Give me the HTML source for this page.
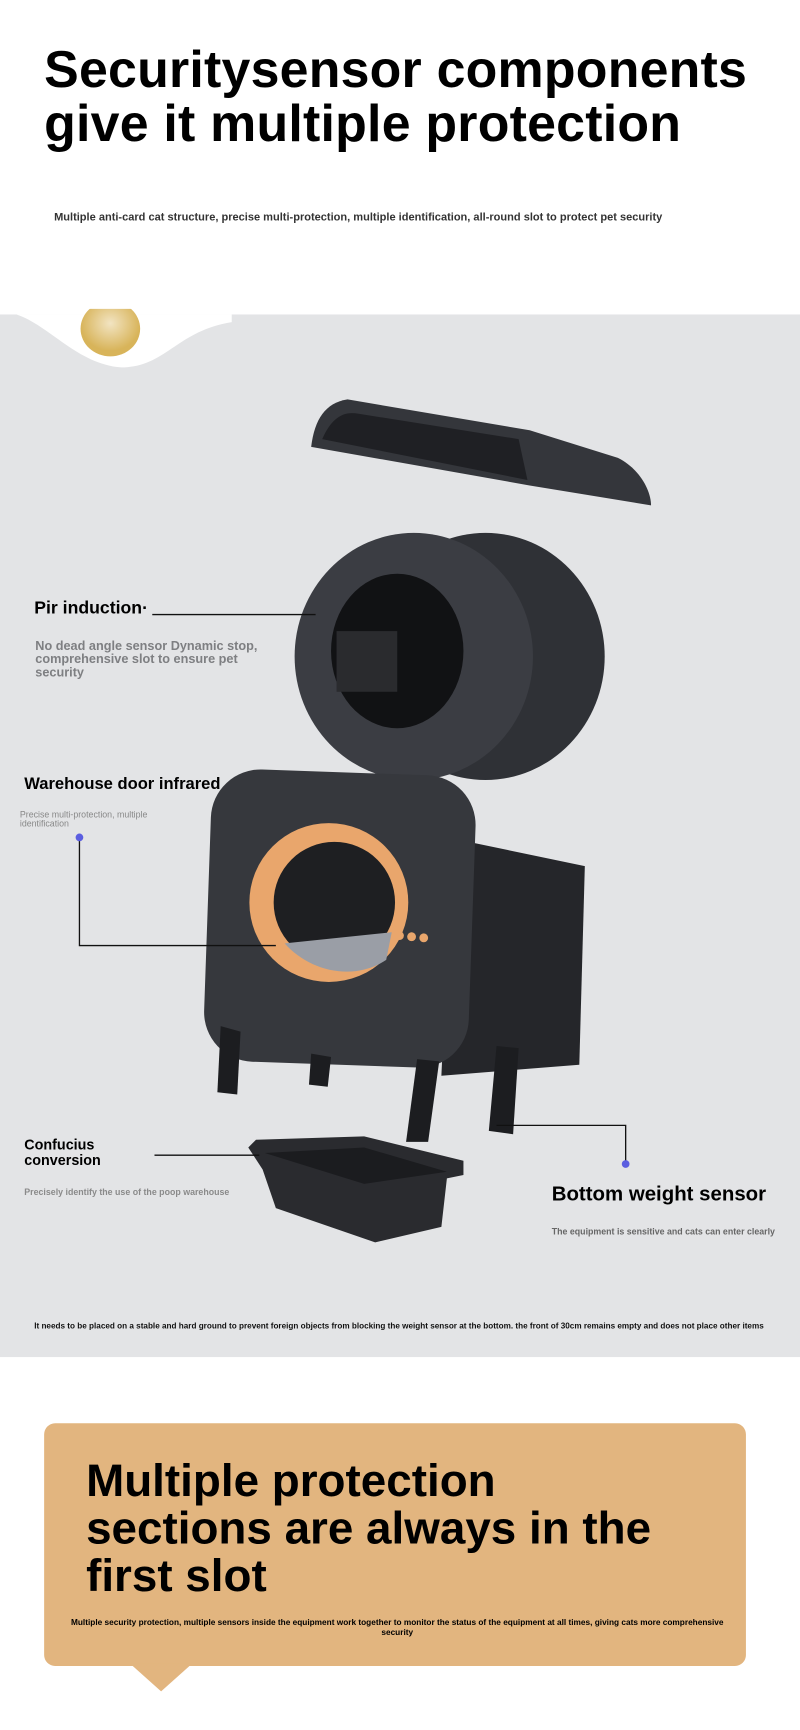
<!DOCTYPE html>
<html><head><meta charset="utf-8"><style>
html,body{margin:0;padding:0;background:#fff;overflow:hidden}
#w{width:725px;height:1568px;position:relative;transform:scale(1.10345,1.10332);transform-origin:0 0;font-family:"Liberation Sans",sans-serif}
.a{position:absolute;margin:0}
</style></head><body><div id="w">
<div class="a" style="left:40px;top:38px;font-size:47px;font-weight:bold;line-height:49px;color:#000;letter-spacing:0.2px">Securitysensor components<br>give it multiple protection</div>
<div class="a" style="left:49px;top:192px;font-size:10px;font-weight:bold;color:#333">Multiple anti-card cat structure, precise multi-protection, multiple identification, all-round slot to protect pet security</div>
<div class="a" style="left:0;top:285px;width:725px;height:945px;background:#e3e4e6"></div>
<svg class="a" style="left:0;top:280px" width="725" height="960" viewBox="0 280 725 960">
<path d="M15 285 C45 295 70 330 110 333 C150 333 160 300 210 292 L210 285Z" fill="#fff"/>
<defs><radialGradient id="g" cx="50%" cy="40%"><stop offset="0" stop-color="#f2e4c2"/><stop offset="1" stop-color="#d8b45a"/></radialGradient></defs>
<ellipse cx="100" cy="298" rx="27" ry="25" fill="url(#g)"/>
<path d="M282 405 C285 380 295 365 315 362 L480 390 L560 415 C580 425 590 445 590 458 L480 440 L282 405Z" fill="#34363b"/>
<path d="M292 398 C300 380 310 372 325 375 L470 398 L478 435 Z" fill="#1f2024"/>
<ellipse cx="440" cy="595" rx="108" ry="112" fill="#2f3136"/>
<ellipse cx="375" cy="595" rx="108" ry="112" fill="#3b3d43"/>
<ellipse cx="360" cy="590" rx="60" ry="70" fill="#111214"/>
<rect x="305" y="572" width="55" height="55" fill="#2a2b2e"/>
<path d="M410 760 L530 785 L525 965 L400 975Z" fill="#25262a"/>
<rect x="188" y="700" width="240" height="265" rx="45" fill="#36383d" transform="rotate(2 308 832)"/>
<circle cx="298" cy="818" r="72" fill="#e9a66c"/>
<circle cx="303" cy="818" r="55" fill="#1e1f22"/>
<path d="M258 855 L355 845 L350 870 C320 890 280 880 258 855Z" fill="#9a9ea6"/>
<circle cx="362" cy="848" r="4" fill="#e9a66c"/><circle cx="373" cy="849" r="4" fill="#e9a66c"/><circle cx="384" cy="850" r="4" fill="#e9a66c"/>
<path d="M200 930 L218 935 L215 992 L197 990Z" fill="#1c1d20"/>
<path d="M282 955 L300 958 L297 985 L280 983Z" fill="#1c1d20"/>
<path d="M378 960 L398 962 L388 1035 L368 1035Z" fill="#1c1d20"/>
<path d="M450 948 L470 950 L465 1028 L443 1025Z" fill="#1c1d20"/>
<path d="M225 1040 L232 1033 L330 1030 L420 1052 L420 1065 L405 1068 L400 1112 L340 1126 L250 1095 L238 1060Z" fill="#2a2b2f"/>
<path d="M240 1045 L330 1040 L405 1062 L330 1073 Z" fill="#1b1c1f"/>
<line x1="138" y1="557" x2="286" y2="557" stroke="#111" stroke-width="1.2"/>
<polyline points="72,759 72,857 250,857" fill="none" stroke="#111" stroke-width="1.2"/>
<circle cx="72" cy="759" r="3.5" fill="#5b5ee0"/>
<line x1="140" y1="1047" x2="235" y2="1047" stroke="#111" stroke-width="1.2"/>
<polyline points="450,1020 567,1020 567,1055" fill="none" stroke="#111" stroke-width="1.2"/>
<circle cx="567" cy="1055" r="3.5" fill="#5b5ee0"/>
</svg>
<div class="a" style="left:31px;top:543px;font-size:16px;font-weight:bold">Pir induction·</div>
<div class="a" style="left:32px;top:580px;font-size:11.5px;font-weight:bold;color:#7e7f82;line-height:12px">No dead angle sensor Dynamic stop,<br>comprehensive slot to ensure pet<br>security</div>
<div class="a" style="left:22px;top:702px;font-size:15px;font-weight:bold">Warehouse door infrared</div>
<div class="a" style="left:18px;top:735px;font-size:8px;color:#888;line-height:8px">Precise multi-protection, multiple<br>identification</div>
<div class="a" style="left:22px;top:1031px;font-size:13px;font-weight:bold;line-height:14px">Confucius<br>conversion</div>
<div class="a" style="left:22px;top:1076px;font-size:8px;color:#8a8a8a;font-weight:bold">Precisely identify the use of the poop warehouse</div>
<div class="a" style="left:500px;top:1071px;font-size:18.5px;font-weight:bold">Bottom weight sensor</div>
<div class="a" style="left:500px;top:1112px;font-size:8px;color:#666;font-weight:bold">The equipment is sensitive and cats can enter clearly</div>
<div class="a" style="left:31px;top:1197px;font-size:7.4px;font-weight:bold;color:#111;white-space:nowrap">It needs to be placed on a stable and hard ground to prevent foreign objects from blocking the weight sensor at the bottom. the front of 30cm remains empty and does not place other items</div>
<div class="a" style="left:40px;top:1290px;width:636px;height:220px;background:#e2b57f;border-radius:10px"></div>
<div class="a" style="left:118px;top:1508px;width:0;height:0;border-left:28px solid transparent;border-right:28px solid transparent;border-top:25px solid #e2b57f"></div>
<div class="a" style="left:78px;top:1320px;font-size:41.5px;font-weight:bold;line-height:43px">Multiple protection<br>sections are always in the<br>first slot</div>
<div class="a" style="left:55px;top:1466px;width:610px;text-align:center;font-size:7.5px;font-weight:bold;line-height:9px">Multiple security protection, multiple sensors inside the equipment work together to monitor the status of the equipment at all times, giving cats more comprehensive security</div>
</div></body></html>
